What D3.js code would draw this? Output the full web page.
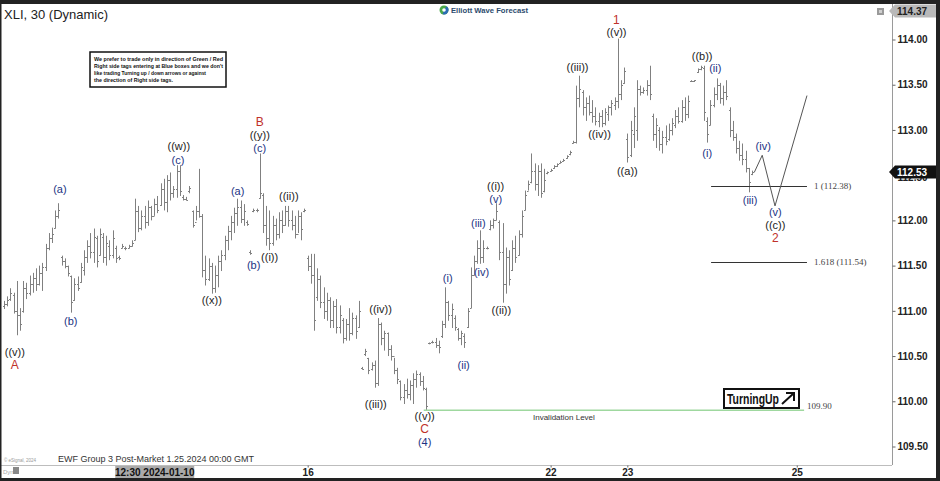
<!DOCTYPE html>
<html>
<head>
<meta charset="utf-8">
<script src="https://cdn.jsdelivr.net/npm/d3@7"></script>
<style>
  body { margin: 0; background: #fff; }
  svg { display: block; font-family: Arial, "Liberation Sans", sans-serif; }
</style>
</head>
<body>
<svg id="chart"></svg>
<script>
const W = 940, H = 481

// 30 min bars, [open, high, low, close]
const bars = [
  [111.05,111.11,111.02,111.08],[111.08,111.16,111.05,111.12],[111.13,111.25,111.11,111.20],[111.18,111.20,110.97,111.00],
  [111.00,111.33,110.73,110.95],[110.95,111.03,110.78,110.85],[111.00,111.33,110.98,111.25],[111.25,111.31,111.13,111.20],
  [111.20,111.39,111.17,111.30],[111.30,111.42,111.20,111.36],[111.36,111.47,111.22,111.30],[111.30,111.50,111.28,111.42],
  [111.42,111.53,111.22,111.48],[111.48,111.74,111.44,111.70],[111.70,111.86,111.67,111.80],[111.80,111.92,111.75,111.85],
  [111.92,112.11,111.91,112.05],[112.05,112.19,112.02,112.12],[111.60,111.61,111.50,111.55],[111.55,111.58,111.47,111.50],
  [111.50,111.50,111.38,111.42],[111.38,111.39,110.98,111.10],[111.12,111.36,111.11,111.30],[111.30,111.38,111.22,111.25],
  [111.32,111.53,111.31,111.48],[111.45,111.67,111.39,111.60],[111.60,111.78,111.53,111.72],[111.72,111.86,111.58,111.65],
  [111.65,111.91,111.53,111.82],[111.80,111.83,111.48,111.55],[111.62,111.91,111.61,111.85],[111.82,111.86,111.53,111.60],
  [111.60,111.83,111.50,111.75],[111.72,111.78,111.56,111.62],[111.62,111.89,111.58,111.80],[111.70,111.72,111.53,111.58],
  [111.59,111.61,111.56,111.58],[111.70,111.74,111.69,111.72],[111.69,111.71,111.67,111.70],[111.70,111.73,111.69,111.72],
  [111.72,111.78,111.71,111.75],[111.78,112.24,111.78,112.10],[112.10,112.16,111.87,111.92],[111.92,112.11,111.89,112.05],
  [112.05,112.16,111.91,111.98],[111.98,112.22,111.94,112.15],[112.15,112.16,112.00,112.05],[112.05,112.24,112.05,112.18],
  [112.18,112.27,112.08,112.12],[112.17,112.41,112.16,112.35],[112.35,112.46,112.11,112.20],[112.20,112.50,112.09,112.45],
  [112.45,112.53,112.22,112.30],[112.30,112.38,112.25,112.35],[112.35,112.61,112.25,112.55],[112.55,112.61,112.27,112.32],
  [112.26,112.28,112.22,112.24],[112.24,112.26,112.22,112.23],[112.32,112.38,112.30,112.36],[112.10,112.11,111.92,111.95],
  [111.98,112.16,112.00,112.10],[112.10,112.57,112.03,112.05],[112.05,112.07,111.37,111.45],[111.45,111.61,111.28,111.35],
  [111.35,111.58,111.33,111.50],[111.50,111.53,111.19,111.25],[111.25,111.50,111.20,111.40],[111.40,111.61,111.26,111.55],
  [111.55,111.67,111.44,111.62],[111.62,111.83,111.56,111.78],[111.78,111.94,111.67,111.88],[111.88,112.05,111.78,111.98],
  [111.98,112.14,111.86,112.08],[112.08,112.24,111.94,112.15],[112.15,112.22,111.97,112.02],[112.02,112.18,111.94,112.10],
  [111.98,112.00,111.94,111.96],[111.65,111.67,111.62,111.64],[112.10,112.13,112.09,112.12],[112.12,112.13,112.09,112.11],
  [112.25,112.74,112.24,112.30],[112.28,112.30,111.86,111.95],[111.95,112.16,111.72,111.80],[111.80,112.11,111.67,111.75],
  [111.75,112.05,111.72,111.95],[111.95,112.02,111.78,111.85],[111.85,112.09,111.80,112.00],[112.00,112.11,111.86,111.95],
  [111.95,112.16,111.94,112.10],[112.10,112.16,111.93,112.00],[112.00,112.11,111.89,111.95],[111.95,112.05,111.80,111.85],
  [111.85,112.11,111.86,112.05],[112.05,112.09,111.78,111.90],[112.10,112.13,112.09,112.12],[111.58,111.61,111.44,111.50],
  [111.50,111.63,111.30,111.40],[111.40,111.63,110.78,110.90],[111.15,111.47,111.11,111.35],[111.35,111.39,111.03,111.10],
  [111.10,111.26,110.91,111.00],[111.00,111.20,110.89,111.12],[111.12,111.15,110.81,110.90],[110.90,111.11,110.81,111.05],
  [111.05,111.13,110.75,110.82],[110.82,111.06,110.75,110.95],[110.90,110.92,110.64,110.70],[110.70,110.91,110.67,110.85],
  [110.85,111.03,110.67,110.75],[110.75,110.98,110.73,110.92],[110.92,110.95,110.69,110.78],[110.82,111.11,110.81,111.00],
  [110.37,110.38,110.35,110.36],[110.52,110.58,110.50,110.56],[110.48,110.48,110.30,110.35],[110.36,110.43,110.34,110.40],
  [110.40,110.45,110.15,110.20],[110.20,110.92,110.17,110.85],[110.85,110.87,110.62,110.70],[110.70,110.78,110.56,110.75],
  [110.75,110.76,110.50,110.58],[110.58,110.62,110.45,110.50],[110.50,110.48,110.30,110.35],[110.35,110.37,110.19,110.25],
  [110.22,110.23,110.01,110.05],[110.05,110.19,109.97,110.12],[110.12,110.25,110.03,110.08],[110.08,110.23,110.01,110.18],
  [110.18,110.31,109.97,110.25],[110.25,110.34,110.15,110.30],[110.30,110.32,110.17,110.22],[110.22,110.28,110.12,110.15],
  [110.14,110.15,109.90,109.95],[110.64,110.65,110.63,110.64],[110.65,110.67,110.64,110.66],[110.66,110.70,110.59,110.62],
  [110.62,110.67,110.53,110.60],[110.72,110.89,110.70,110.85],[110.85,111.26,110.81,111.10],[111.10,111.11,110.89,110.95],
  [110.95,111.08,110.81,111.02],[110.92,110.95,110.78,110.82],[110.80,110.81,110.67,110.70],[110.70,110.78,110.62,110.75],
  [110.72,110.75,110.59,110.65],[110.82,111.03,110.81,111.00],[111.03,111.48,111.03,111.40],[111.40,111.61,111.39,111.55],
  [111.55,111.78,111.52,111.70],[111.70,111.89,111.52,111.60],[111.60,111.78,111.53,111.70],[111.70,111.71,111.68,111.69],
  [111.90,112.00,111.89,111.95],[111.95,112.02,111.91,112.00],[112.00,112.19,112.00,112.10],[111.98,112.00,111.56,111.65],
  [111.65,111.97,111.09,111.30],[111.30,111.70,111.19,111.60],[111.60,111.67,111.28,111.35],[111.45,111.78,111.44,111.70],
  [111.70,111.83,111.53,111.60],[111.62,111.89,111.61,111.85],[111.85,112.11,111.81,112.05],[112.12,112.33,112.11,112.28],
  [112.33,112.44,112.33,112.40],[112.42,112.74,112.41,112.55],[112.55,112.63,112.33,112.40],[112.40,112.61,112.27,112.55],
  [112.55,112.63,112.25,112.30],[112.32,112.57,112.31,112.45],[112.52,112.54,112.51,112.53],[112.55,112.57,112.54,112.56],
  [112.58,112.61,112.57,112.60],[112.60,112.63,112.59,112.62],[112.64,112.66,112.63,112.65],[112.66,112.68,112.65,112.67],
  [112.69,112.72,112.68,112.71],[112.73,112.77,112.72,112.76],[112.86,112.88,112.85,112.87],[112.87,113.49,112.85,113.35],
  [113.35,113.60,113.25,113.45],[113.42,113.44,113.16,113.25],[113.25,113.36,113.10,113.30],[113.30,113.38,113.16,113.20],
  [113.20,113.33,113.08,113.15],[113.15,113.25,113.05,113.10],[113.10,113.19,113.03,113.15],[113.15,113.22,113.03,113.08],
  [113.08,113.24,113.05,113.20],[113.18,113.27,113.10,113.25],[113.25,113.33,113.16,113.30],[113.28,113.36,113.22,113.32],
  [113.32,114.01,113.24,113.40],[113.40,113.55,113.33,113.50],[113.52,113.69,113.51,113.65],[112.90,112.96,112.64,112.70],
  [112.72,113.10,112.70,113.00],[112.95,113.25,112.80,113.15],[113.00,113.55,112.88,113.45],[113.45,113.49,113.38,113.42],
  [113.42,113.47,113.40,113.44],[113.44,113.55,113.38,113.50],[113.50,113.71,113.33,113.40],[113.15,113.18,112.88,112.95],
  [112.95,113.13,112.80,113.05],[113.00,113.03,112.77,112.85],[112.85,112.99,112.74,112.92],[112.92,113.05,112.83,112.88],
  [112.90,113.07,112.88,113.00],[113.00,113.13,112.94,113.08],[113.05,113.22,113.02,113.15],[113.15,113.25,113.07,113.10],
  [113.10,113.33,113.08,113.25],[113.25,113.36,113.10,113.18],[113.18,113.38,113.13,113.32],[113.54,113.55,113.53,113.54],
  [113.54,113.55,113.53,113.55],[113.64,113.68,113.63,113.67],[113.67,113.71,113.66,113.70],[113.68,113.71,113.10,113.20],
  [113.10,113.14,112.86,112.95],[113.05,113.33,113.05,113.28],[113.28,113.47,113.25,113.40],[113.40,113.57,113.33,113.50],
  [113.50,113.52,113.29,113.35],[113.35,113.49,113.27,113.42],[113.42,113.55,113.33,113.38],[113.22,113.25,112.92,113.00],
  [113.00,113.10,112.88,112.92],[112.92,112.96,112.74,112.80],[112.80,112.88,112.66,112.72],[112.72,112.85,112.61,112.68],
  [112.68,112.77,112.53,112.58],[112.58,112.58,112.31,112.42],[112.51,112.55,112.50,112.53]
]

const priceTicks = [109.5, 110, 110.5, 111, 111.5, 112, 112.5, 113, 113.5, 114]
const dayTickIdx = [95, 171, 195, 248]
const dayTickText = ['16', '22', '23', '25']
const cursorIdx = 47, cursorText = '12:30 2024-01-10'
const lastPrice = 112.53, highPrice = 114.37

// wave count labels: [text, bar index, price, colour kind]
const waveLabels = [
  ['((v))', 3.4, 110.55, 'k'], ['A', 3.4, 110.40, 'r'],
  ['(a)', 17.5, 112.35, 'b'], ['(b)', 20.9, 110.89, 'b'],
  ['((w))', 54.7, 112.82, 'k'], ['(c)', 54.4, 112.67, 'b'],
  ['((x))', 65, 111.12, 'k'], ['(a)', 73.1, 112.33, 'b'], ['(b)', 78.1, 111.51, 'b'],
  ['B', 80, 113.09, 'r'], ['((y))', 80, 112.94, 'k'], ['(c)', 80, 112.80, 'b'],
  ['((i))', 83.1, 111.59, 'k'], ['((ii))', 89.1, 112.27, 'k'],
  ['((iv))', 117.8, 111.02, 'k'], ['((iii))', 116.3, 109.97, 'k'],
  ['((v))', 131.6, 109.84, 'k'], ['C', 131.6, 109.695, 'r'], ['(4)', 131.6, 109.545, 'b'],
  ['(i)', 138.8, 111.36, 'b'], ['(ii)', 143.8, 110.40, 'b'], ['(iii)', 148.4, 111.97, 'b'],
  ['(iv)', 149.4, 111.43, 'b'], ['((i))', 153.8, 112.38, 'k'], ['(v)', 153.8, 112.24, 'b'],
  ['((ii))', 155.6, 111.01, 'k'], ['((iii))', 179.4, 113.70, 'k'], ['((iv))', 186.3, 112.95, 'k'],
  ['1', 191.6, 114.22, 'r'], ['((v))', 191.6, 114.08, 'k'], ['((a))', 195, 112.55, 'k'],
  ['((b))', 218.4, 113.82, 'k'], ['(ii)', 222.5, 113.68, 'b'], ['(i)', 220, 112.74, 'b'],
  ['(iii)', 233.4, 112.22, 'b'], ['(iv)', 237.5, 112.82, 'b'], ['(v)', 241.3, 112.09, 'b'],
  ['((c))', 241.3, 111.95, 'k'], ['2', 241.3, 111.80, 'r']
]

// projected path (iv)-(v) then up
const projIdx = [234.7, 237.2, 241.2, 251.2]
const projPrice = [112.53, 112.72, 112.16, 113.38]

const fibLevels = [1, 1.618]
const fibPrices = [112.38, 111.54]
const fibFrom = 221.2, fibTo = 251.2
const invalidation = 109.90, invFrom = 131.3, invTo = 250.3

const notice = [
  'We prefer to trade only in direction of Green / Red',
  "Right side tags entering at Blue boxes and we don't",
  'like trading Turning up / down arrows or against',
  'the direction of Right side tags.'
]
const noticeWidths = [129, 129, 112, 79]

const colours = { k: '#1c1c1c', b: '#1c3384', r: '#c0312a' }

const plotRight = 892, plotBottom = 465

const svg = d3.select('#chart').attr('width', W).attr('height', H)

const x = d3.scaleLinear().domain([0, bars.length - 1]).range([4, 752])
const y = d3.scaleLinear().domain([109.5, 114]).range([446.5, 39.5])

svg.append('rect').attr('width', W).attr('height', H).attr('fill', '#fff')

svg.append('defs').append('clipPath').attr('id', 'plotclip')
  .append('rect').attr('x', 0).attr('y', 4).attr('width', plotRight).attr('height', plotBottom - 4)

const g = svg.append('g').attr('clip-path', 'url(#plotclip)')

// ohlc bars
const px = i => Math.round(x(i)) + 0.5
const barG = g.append('g').attr('stroke', '#808080').attr('stroke-width', 1)
barG.selectAll('line.hl').data(bars).enter().append('line')
  .attr('x1', (d, i) => px(i)).attr('x2', (d, i) => px(i))
  .attr('y1', d => y(d[1])).attr('y2', d => Math.max(y(d[2]), y(d[1]) + 1.5))
barG.selectAll('line.op').data(bars).enter().append('line')
  .attr('x1', (d, i) => px(i) - 1.5).attr('x2', (d, i) => px(i))
  .attr('y1', d => Math.round(y(d[0])) + 0.5).attr('y2', d => Math.round(y(d[0])) + 0.5)
barG.selectAll('line.cl').data(bars).enter().append('line')
  .attr('x1', (d, i) => px(i)).attr('x2', (d, i) => px(i) + 1.5)
  .attr('y1', d => Math.round(y(d[3])) + 0.5).attr('y2', d => Math.round(y(d[3])) + 0.5)

// invalidation level
g.append('line')
  .attr('x1', x(invFrom)).attr('x2', x(invTo))
  .attr('y1', y(invalidation)).attr('y2', y(invalidation))
  .attr('stroke', '#9fd89f').attr('stroke-width', 1.5)
g.append('text').attr('x', (x(invFrom) + x(invTo)) / 2 - 50).attr('y', y(invalidation) + 10)
  .attr('text-anchor', 'middle').attr('font-size', 8).attr('fill', '#333').text('Invalidation Level')
g.append('text').attr('x', x(invTo) + 3).attr('y', y(invalidation) - 1)
  .attr('font-family', '"Liberation Serif", "DejaVu Serif", serif').attr('font-size', 9).attr('fill', '#444')
  .text(invalidation.toFixed(2))

// fibonacci extension lines
fibLevels.forEach((f, i) => {
  g.append('line').attr('x1', x(fibFrom)).attr('x2', x(fibTo))
    .attr('y1', Math.round(y(fibPrices[i])) + 0.5).attr('y2', Math.round(y(fibPrices[i])) + 0.5)
    .attr('stroke', '#333').attr('stroke-width', 1)
  g.append('text').attr('x', x(fibTo) + 7).attr('y', y(fibPrices[i]) + 3)
    .attr('font-family', '"Liberation Serif", "DejaVu Serif", serif').attr('font-size', 9).attr('fill', '#444')
    .text(`${f} (${fibPrices[i].toFixed(2)})`)
})

// projection
g.append('path')
  .attr('d', d3.line()(projIdx.map((d, i) => [x(d), y(projPrice[i])])))
  .attr('fill', 'none').attr('stroke', '#555').attr('stroke-width', 1)

// wave labels
g.selectAll('text.wave').data(waveLabels).enter().append('text')
  .attr('x', d => x(d[1])).attr('y', d => y(d[2]))
  .attr('text-anchor', 'middle').attr('dominant-baseline', 'central')
  .attr('font-size', d => d[3] == 'r' ? 12 : 11)
  .attr('fill', d => colours[d[3]])
  .text(d => d[0])

// notice box
const nb = svg.append('g').attr('transform', 'translate(90,52)')
nb.append('rect').attr('width', 136).attr('height', 35).attr('fill', '#fff').attr('stroke', '#111').attr('stroke-width', 1.5)
nb.selectAll('text').data(notice).enter().append('text')
  .attr('x', 4).attr('y', (d, i) => 8.5 + i * 7)
  .attr('font-size', 5.8).attr('font-weight', 'bold').attr('fill', '#111')
  .attr('textLength', (d, i) => noticeWidths[i]).attr('lengthAdjust', 'spacingAndGlyphs')
  .text(d => d)

// turning up box
const tb = svg.append('g').attr('transform', 'translate(724,389)')
tb.append('rect').attr('width', 75).attr('height', 19).attr('fill', '#fff').attr('stroke', '#111').attr('stroke-width', 2)
tb.append('text').attr('x', 3).attr('y', 15).attr('font-size', 14).attr('font-weight', 'bold').attr('fill', '#111')
  .attr('textLength', 52).attr('lengthAdjust', 'spacingAndGlyphs').text('TurningUp')
tb.append('path').attr('d', 'M58,15 L70,4 M62,4 L70,4 L70,12')
  .attr('fill', 'none').attr('stroke', '#111').attr('stroke-width', 2)

// axes frame
svg.append('line').attr('x1', plotRight + 0.5).attr('x2', plotRight + 0.5).attr('y1', 4).attr('y2', plotBottom)
  .attr('stroke', '#9a9a9a')
svg.append('line').attr('x1', 0).attr('x2', plotRight).attr('y1', plotBottom + 0.5).attr('y2', plotBottom + 0.5)
  .attr('stroke', '#bdbdbd')

const yAxis = svg.append('g').attr('transform', `translate(${plotRight + 0.5},0)`)
  .call(d3.axisRight(y).tickValues(priceTicks).tickFormat(d3.format('.2f')).tickSize(3).tickPadding(2))
yAxis.select('.domain').remove()
yAxis.selectAll('line').attr('stroke', '#666')
yAxis.selectAll('text').attr('font-size', 10).attr('font-weight', 'bold').attr('fill', '#222')
  .attr('font-family', 'Arial, "Liberation Sans", sans-serif')
// the last price tag sits over this one, as in the platform
yAxis.selectAll('.tick').filter(d => d == 112.5).select('text').attr('dy', '0.55em')

const xAxis = svg.append('g').attr('transform', `translate(0,${plotBottom + 0.5})`)
  .call(d3.axisBottom(x).tickValues(dayTickIdx).tickFormat((d, i) => dayTickText[i]).tickSize(2).tickPadding(1))
xAxis.select('.domain').remove()
xAxis.selectAll('line').attr('stroke', '#666')
xAxis.selectAll('text').attr('font-size', 10).attr('font-weight', 'bold').attr('fill', '#222')
  .attr('font-family', 'Arial, "Liberation Sans", sans-serif')

// crosshair time label
svg.append('rect').attr('x', x(cursorIdx) - 39).attr('y', plotBottom + 1).attr('width', 79).attr('height', 12).attr('fill', '#aaa')
svg.append('text').attr('x', x(cursorIdx) + 0.5).attr('y', plotBottom + 11)
  .attr('text-anchor', 'middle').attr('font-size', 10).attr('font-weight', 'bold').attr('fill', '#111').text(cursorText)

// price tags on the right
const tag = (price, yy, fill, textFill) => {
  svg.append('path')
    .attr('d', `M${plotRight - 3},${yy} L${plotRight + 3},${yy - 6.5} L936,${yy - 6.5} L936,${yy + 6.5} L${plotRight + 3},${yy + 6.5} Z`)
    .attr('fill', fill)
  svg.append('text').attr('x', plotRight + 5).attr('y', yy + 4)
    .attr('font-size', 10).attr('font-weight', 'bold').attr('fill', textFill).text(price.toFixed(2))
}
tag(lastPrice, Math.round(y(lastPrice)), '#111', '#fff')
tag(highPrice, Math.max(Math.round(y(highPrice)), 11), '#b9b9b9', '#222')

// header and footer texts
svg.append('text').attr('x', 4).attr('y', 19).attr('font-size', 13).attr('fill', '#222').text('XLI, 30 (Dynamic)')

const logo = svg.append('g').attr('transform', 'translate(444,10)')
logo.append('circle').attr('r', 4.5).attr('fill', '#4aa84a')
logo.append('path').attr('d', d3.arc()({ innerRadius: 0, outerRadius: 4.5, startAngle: Math.PI * 0.2, endAngle: Math.PI * 1.1 }))
  .attr('fill', '#2b6cb5')
logo.append('circle').attr('r', 1.8).attr('fill', '#fff')
svg.append('text').attr('x', 451).attr('y', 13).attr('font-size', 8).attr('font-weight', 'bold').attr('fill', '#2d4b6e')
  .attr('textLength', 77).attr('lengthAdjust', 'spacingAndGlyphs').text('Elliott Wave Forecast')

svg.append('rect').attr('x', 877).attr('y', 8).attr('width', 7).attr('height', 7).attr('fill', '#9a9a9a')
svg.append('rect').attr('x', 879).attr('y', 10).attr('width', 3).attr('height', 3).attr('fill', '#d0d0d0')

svg.append('text').attr('x', 58).attr('y', 462).attr('font-size', 9).attr('fill', '#333')
  .text('EWF Group 3 Post-Market 1.25.2024 00:00 GMT')
svg.append('text').attr('x', 4).attr('y', 462).attr('font-size', 4.5).attr('fill', '#999').text('© eSignal, 2024')
svg.append('text').attr('x', 3).attr('y', 474).attr('font-size', 6).attr('fill', '#aaa').text('Dyn')
svg.append('rect').attr('x', 13).attr('y', 467).attr('width', 6).attr('height', 7).attr('fill', '#888')

// dark window border
svg.append('rect').attr('x', 0).attr('y', 0).attr('width', W).attr('height', 4).attr('fill', '#222')
svg.append('rect').attr('x', 0).attr('y', 0).attr('width', 1.5).attr('height', H).attr('fill', '#222')
svg.append('rect').attr('x', 936).attr('y', 0).attr('width', 4).attr('height', H).attr('fill', '#222')
svg.append('rect').attr('x', 0).attr('y', 478).attr('width', W).attr('height', 3).attr('fill', '#222')
</script>
</body>
</html>
